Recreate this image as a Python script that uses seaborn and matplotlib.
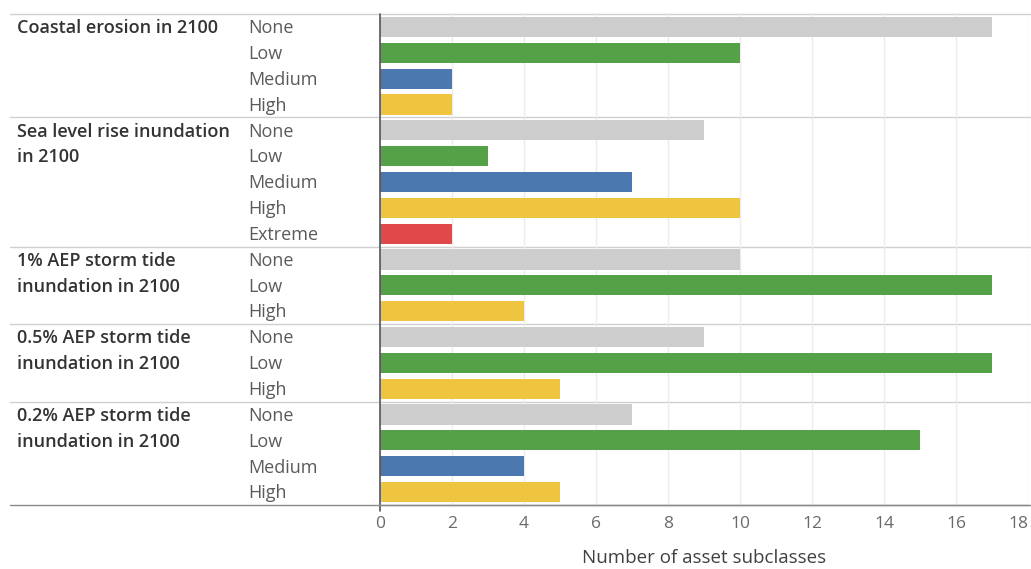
import matplotlib
matplotlib.use("Agg")
import matplotlib.pyplot as plt
import matplotlib.transforms as mtransforms
import pandas as pd
import seaborn as sns

# Hazard groups, their exposure levels and asset subclass counts
hazards = [
    "Coastal erosion in 2100",
    "Sea level rise inundation\nin 2100",
    "1% AEP storm tide\ninundation in 2100",
    "0.5% AEP storm tide\ninundation in 2100",
    "0.2% AEP storm tide\ninundation in 2100",
]
coastal_levels = ["None", "Low", "Medium", "High"]
coastal_counts = [17, 10, 2, 2]
slr_levels = ["None", "Low", "Medium", "High", "Extreme"]
slr_counts = [9, 3, 7, 10, 2]
aep1_levels = ["None", "Low", "High"]
aep1_counts = [10, 17, 4]
aep05_levels = ["None", "Low", "High"]
aep05_counts = [9, 17, 5]
aep02_levels = ["None", "Low", "Medium", "High"]
aep02_counts = [7, 15, 4, 5]

x_ticks = [0, 2, 4, 6, 8, 10, 12, 14, 16, 18]
x_label = "Number of asset subclasses"

level_colors = {
    "None": "#cdcdcd",
    "Low": "#54a147",
    "Medium": "#4c78b0",
    "High": "#efc53f",
    "Extreme": "#e0484a",
}

level_sets = [coastal_levels, slr_levels, aep1_levels, aep05_levels, aep02_levels]
count_sets = [coastal_counts, slr_counts, aep1_counts, aep05_counts, aep02_counts]

rows = []
for g, (hz, lv, ct) in enumerate(zip(hazards, level_sets, count_sets)):
    for l, c in zip(lv, ct):
        rows.append({"row": f"{g}-{l}", "group": g, "level": l, "count": c})
df = pd.DataFrame(rows)

sns.set_theme(style="white")
plt.rcParams["font.family"] = ["Open Sans", "DejaVu Sans"]

W, H = 1031, 569
fig = plt.figure(figsize=(W / 100, H / 100), dpi=100)
ax = fig.add_axes([380 / W, 1 - 505 / H, (1028 - 380) / W, (505 - 14) / H])

sns.barplot(
    data=df, x="count", y="row", hue="level", palette=level_colors,
    dodge=False, orient="h", width=0.78, legend=False, ax=ax,
    saturation=1, linewidth=0,
)

n = len(df)
ax.set_xlim(0, 18)
ax.set_ylim(n - 0.5, -0.5)
ax.set_xticks(x_ticks)
ax.set_xticklabels([str(t) for t in x_ticks], color="#6a6a6a", fontsize=12.5)
ax.get_xticklabels()[-1].set_horizontalalignment("right")
ax.set_yticks([])
ax.set_ylabel("")
ax.set_xlabel(x_label, color="#404040", fontsize=13.5, labelpad=12)
ax.tick_params(axis="x", length=5, width=0.8, color="#9a9a9a", pad=3, direction="out")

for s in ["top", "right", "left"]:
    ax.spines[s].set_visible(False)
ax.spines["bottom"].set_color("#8a8a8a")
ax.spines["bottom"].set_linewidth(1.0)

# light vertical gridlines
ax.set_axisbelow(True)
ax.grid(axis="x", color="#ececec", linewidth=1.0)
ax.grid(axis="y", visible=False)

# zero line
ax.axvline(0, color="#555555", linewidth=1.2, ymin=-0.012, clip_on=False)

# group separators spanning the full width
trans = mtransforms.blended_transform_factory(fig.transFigure, ax.transData)
bounds = [-0.5]
pos = -0.5
for lv in level_sets:
    pos += len(lv)
    bounds.append(pos)
for b in bounds[:-1]:
    ax.plot([10 / W, 1.0], [b, b], transform=trans, color="#cfcfcf",
            linewidth=1.0, clip_on=False, zorder=0)
ax.plot([10 / W, 1.0], [bounds[-1], bounds[-1]], transform=trans,
        color="#8a8a8a", linewidth=1.0, clip_on=False)

# row headers
start = 0
for hz, lv in zip(hazards, level_sets):
    for k, line in enumerate(hz.split("\n")):
        ax.text(17 / W, start + k + 0.05, line, transform=trans, ha="left", va="center",
                fontsize=13, fontweight="semibold", color="#333333")
    for k, l in enumerate(lv):
        ax.text(248 / W, start + k + 0.05, l, transform=trans, ha="left", va="center",
                fontsize=13, color="#5a5a5a")
    start += len(lv)

fig.savefig("out.png", dpi=100)
